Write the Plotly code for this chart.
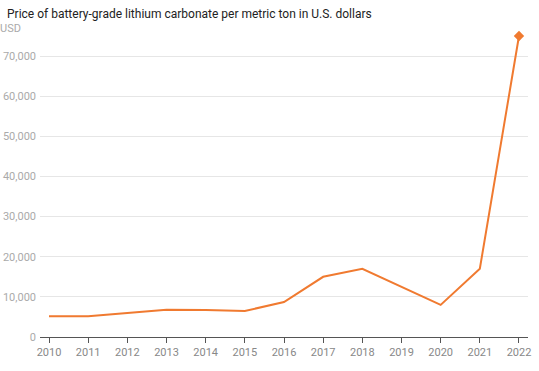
import plotly.graph_objects as go

years = [2010, 2011, 2012, 2013, 2014, 2015, 2016, 2017, 2018, 2019, 2020, 2021, 2022]
prices = [5200, 5200, 6000, 6800, 6700, 6500, 8700, 15000, 17000, 12600, 8000, 17000, 75000]
y_ticks = [0, 10000, 20000, 30000, 40000, 50000, 60000, 70000]
y_tick_labels = ["0", "10,000", "20,000", "30,000", "40,000", "50,000", "60,000", "70,000"]

color = "#f07a30"

fig = go.Figure()
fig.add_trace(go.Scatter(x=years, y=prices, mode="lines", line=dict(color=color, width=2),
                         hoverinfo="x+y", showlegend=False))
fig.add_trace(go.Scatter(x=[years[-1]], y=[prices[-1]], mode="markers",
                         marker=dict(symbol="diamond", size=8, color=color),
                         showlegend=False, hoverinfo="skip"))

fig.update_layout(
    width=539, height=371,
    margin=dict(l=40, r=11, t=28, b=34, autoexpand=False),
    paper_bgcolor="white", plot_bgcolor="white",
    font=dict(family="Roboto, sans-serif", size=11, color="#999"),
    xaxis=dict(range=[2009.77, 2022.23], tickvals=years, ticktext=[str(y) for y in years],
               showgrid=False, showline=True, linecolor="#555", linewidth=1,
               ticks="outside", ticklen=5, tickcolor="#555", automargin=False,
               tickfont=dict(size=11, color="#888"), fixedrange=True, zeroline=False),
    yaxis=dict(range=[0, 77000], tickvals=y_ticks, ticktext=y_tick_labels,
               showgrid=True, gridcolor="#e6e6e6", gridwidth=1, zeroline=False,
               tickfont=dict(size=11, color="#aaa"), ticks="", ticklabelstandoff=3,
               automargin=False, fixedrange=True),
    annotations=[
        dict(text="Price of battery-grade lithium carbonate per metric ton in U.S. dollars",
             xref="paper", yref="paper", x=-35/488, y=1 + (28 - 14) / 309, xanchor="left",
             yanchor="middle", showarrow=False, font=dict(size=12, color="#222")),
        dict(text="USD", xref="paper", yref="paper", x=-42/488, y=1 + (28 - 28) / 309,
             xanchor="left", yanchor="middle", showarrow=False, font=dict(size=11, color="#aaa")),
    ],
)

fig.write_html("out.html", config={"displayModeBar": False},
               post_script="document.body.style.margin='0';")
